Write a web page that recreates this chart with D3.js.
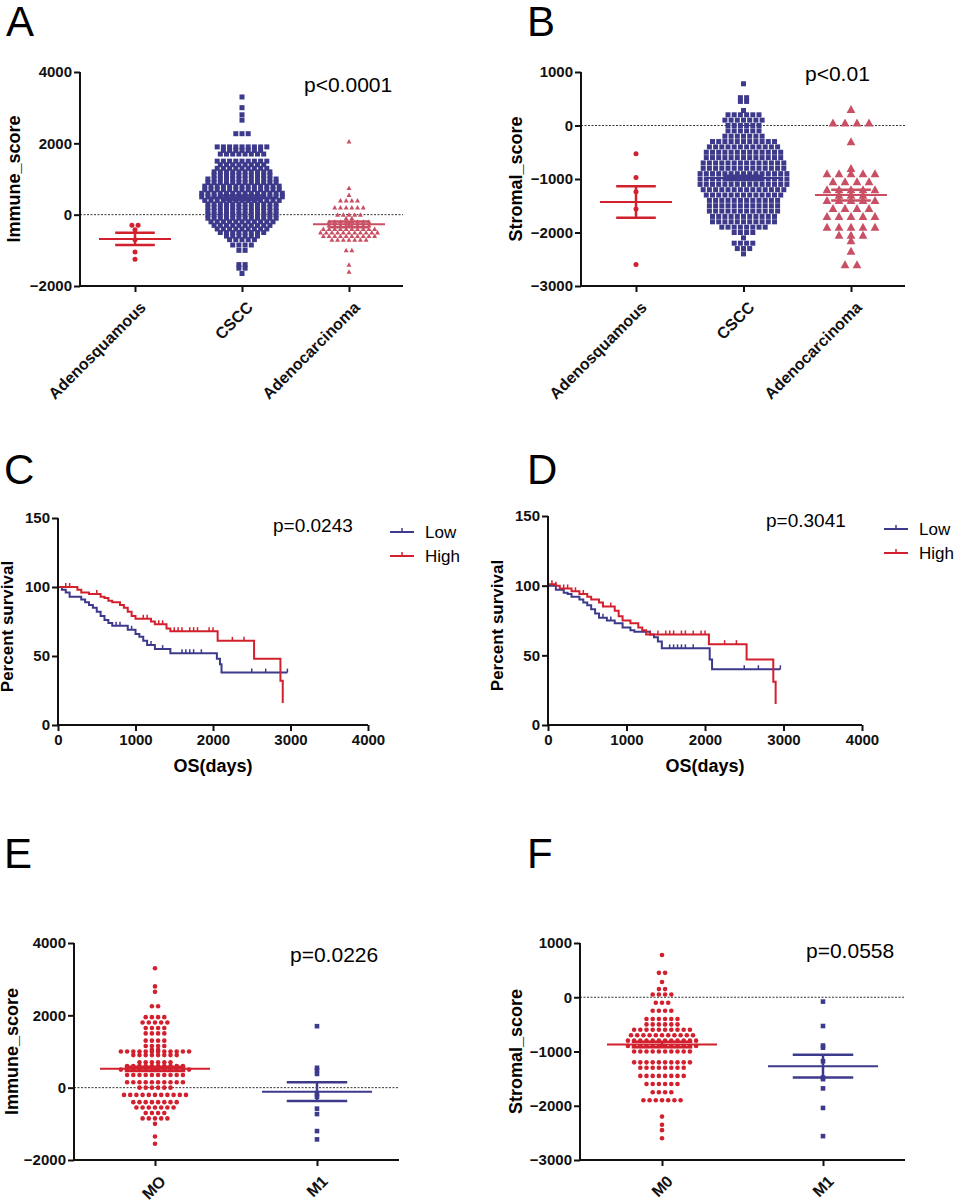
<!DOCTYPE html>
<html>
<head>
<meta charset="utf-8">
<script src="https://cdn.jsdelivr.net/npm/d3@7"></script>
<style>
  body { margin: 0; background: #fff; }
  text { font-family: "Liberation Sans", Arial, sans-serif; }
</style>
</head>
<body>
<div id="chart"></div>
<script>
// ---- data: dot rows as [value, count] ----
const typeCats = ["Adenosquamous", "CSCC", "Adenocarcinoma"];
const metCatsE = ["MO", "M1"];
const metCatsF = ["M0", "M1"];

const immAdenosq = [[-300, 2], [-420, 1], [-700, 1], [-1050, 1], [-1250, 1]];
const immCscc = [[3300, 1], [3000, 1], [2800, 1], [2650, 1], [2270, 3], [1900, 9], [1800, 7], [1700, 8], [1500, 9],
  [1400, 8], [1300, 9], [1200, 10], [1100, 10], [1000, 12], [900, 12], [800, 13], [700, 13], [600, 14], [500, 14],
  [400, 13], [300, 12], [200, 12], [100, 12], [0, 12], [-100, 12], [-200, 11], [-300, 10], [-400, 9], [-500, 8],
  [-600, 6], [-700, 5], [-850, 4], [-1000, 2], [-1400, 2], [-1500, 2], [-1650, 1]];
const immAdenoca = [[2050, 1], [750, 1], [550, 1], [400, 4], [200, 6], [0, 5], [-100, 2], [-200, 8], [-300, 8],
  [-400, 10], [-500, 11], [-600, 10], [-700, 7], [-1000, 2], [-1400, 1], [-1600, 1]];
const immMean = [-680, 480, -270];
const immSem = [170, 60, 80];

const strAdenosq = [[-530, 1], [-970, 1], [-1240, 1], [-1560, 1], [-2600, 1]];
const strCscc = [[780, 1], [520, 2], [450, 2], [280, 1], [200, 6], [100, 7], [0, 6], [-100, 6], [-200, 7],
  [-300, 11], [-400, 12], [-500, 13], [-600, 13], [-700, 14], [-800, 14], [-900, 15], [-1000, 15], [-1100, 15],
  [-1200, 14], [-1300, 13], [-1400, 12], [-1500, 12], [-1600, 12], [-1700, 11], [-1800, 11], [-1900, 8],
  [-2000, 4], [-2100, 1], [-2200, 4], [-2300, 3], [-2400, 1]];
const strAdenoca = [[300, 1], [50, 4], [-300, 1], [-800, 1], [-900, 5], [-1050, 4], [-1200, 5], [-1300, 3],
  [-1400, 5], [-1550, 4], [-1700, 5], [-1900, 5], [-2050, 3], [-2150, 1], [-2350, 1], [-2600, 2]];
const strMean = [-1430, -980, -1300];
const strSem = [295, 40, 100];

const immM0 = [[3300, 1], [2800, 1], [2650, 1], [2250, 2], [1950, 4], [1800, 5], [1650, 4], [1500, 4], [1300, 4],
  [1150, 4], [1050, 2], [1000, 12], [900, 8], [700, 6], [600, 10], [500, 12], [350, 10], [150, 10], [0, 6],
  [-200, 11], [-400, 8], [-550, 7], [-700, 4], [-850, 5], [-1000, 1], [-1350, 1], [-1550, 1]];
const immM1 = [[1700, 1], [550, 1], [480, 1], [380, 1], [-180, 1], [-250, 1], [-580, 1], [-730, 1], [-1200, 1], [-1430, 1]];
const immMetMean = [520, -110];
const immMetSem = [60, 260];

const strM0 = [[780, 1], [450, 2], [280, 1], [150, 2], [50, 4], [-100, 3], [-250, 4], [-400, 6], [-500, 6],
  [-600, 10], [-700, 11], [-800, 12], [-900, 12], [-1000, 10], [-1200, 10], [-1300, 8], [-1450, 8], [-1600, 6],
  [-1750, 4], [-1900, 7], [-2200, 1], [-2350, 1], [-2450, 1], [-2600, 1]];
const strM1 = [[-80, 1], [-530, 1], [-890, 1], [-930, 1], [-1180, 1], [-1480, 1], [-1510, 1], [-1680, 1], [-2040, 1], [-2560, 1]];
const strMetMean = [-870, -1270];
const strMetSem = [50, 210];

// survival steps [days, percent] and censor days
const cLow = [[0, 100], [50, 98], [100, 96], [150, 93], [300, 91], [350, 89], [400, 87], [450, 85], [500, 82],
  [550, 79], [600, 76], [650, 74], [700, 72], [900, 69], [1000, 66], [1050, 64], [1100, 61], [1150, 58],
  [1250, 55], [1450, 52], [2050, 48], [2090, 44], [2110, 38], [2960, 38]];
const cLowCens = [750, 800, 950, 1200, 1350, 1600, 1650, 1700, 1750, 1850, 2500, 2680, 2960];
const cHigh = [[0, 100], [250, 98], [300, 96], [400, 95], [550, 93], [600, 92], [650, 90], [700, 89], [800, 87],
  [850, 85], [900, 82], [950, 79], [1000, 77], [1200, 75], [1250, 73], [1400, 70], [1450, 68], [2060, 61],
  [2530, 48], [2870, 32], [2900, 16]];
const cHighCens = [100, 150, 500, 1100, 1150, 1300, 1350, 1500, 1550, 1600, 1700, 1750, 1800, 1950, 2000, 2250, 2400];
const dLow = [[0, 100], [100, 97], [200, 95], [250, 94], [300, 92], [400, 90], [450, 88], [500, 86], [550, 83],
  [600, 80], [650, 77], [750, 75], [850, 73], [950, 70], [1050, 68], [1100, 67], [1300, 65], [1350, 63],
  [1400, 60], [1450, 55], [2060, 47], [2090, 40], [2960, 40]];
const dLowCens = [700, 800, 1550, 1600, 1650, 1700, 1750, 1850, 2500, 2680, 2960];
const dHigh = [[0, 101], [100, 100], [150, 98], [300, 96], [400, 94], [500, 92], [550, 90], [650, 88], [700, 85],
  [850, 82], [900, 78], [950, 75], [1050, 73], [1150, 70], [1200, 68], [1250, 65], [2050, 58], [2530, 47],
  [2870, 31], [2900, 15]];
const dHighCens = [50, 100, 200, 250, 350, 450, 700, 800, 1300, 1400, 1500, 1550, 1600, 1700, 1750, 1850, 1950, 2000, 2250, 2400];

const NAVY = "#3d3a8c", RED = "#d2202e", PINK = "#c95064";

const svg = d3.select("#chart").append("svg").attr("width", 958).attr("height", 1200);

function letter(t, x, y) {
  svg.append("text").attr("x", x).attr("y", y).attr("font-size", 42).text(t);
}

function yTitle(t, x, y, size) {
  svg.append("text").attr("transform", `translate(${x},${y}) rotate(-90)`)
    .attr("text-anchor", "middle").attr("font-size", size || 18).attr("font-weight", "bold").text(t);
}

function styleAxis(g, size) {
  g.selectAll("path,line").attr("stroke", "#111").attr("stroke-width", 2);
  g.selectAll("text").attr("font-size", size || 15).attr("font-weight", "bold").attr("fill", "#111");
}

function marker(g, shape, cx, cy, s, color) {
  if (shape === "circle") g.append("circle").attr("cx", cx).attr("cy", cy).attr("r", s / 2).attr("fill", color);
  else if (shape === "square") g.append("rect").attr("x", cx - s / 2).attr("y", cy - s / 2).attr("width", s).attr("height", s).attr("fill", color);
  else g.append("path").attr("d", `M${cx},${cy - s * 0.55}L${cx + s * 0.55},${cy + s * 0.45}L${cx - s * 0.55},${cy + s * 0.45}Z`).attr("fill", color);
}

// scatter panel: groups = [{rows, shape, size, color, mean, sem, meanW}]
function dotPanel(o) {
  const y = d3.scaleLinear().domain(o.ydom).range([o.bottom, o.top]);
  const x = d3.scalePoint().domain(o.cats).range([o.catX[0], o.catX[1]]);
  svg.append("line").attr("x1", o.left).attr("x2", o.right).attr("y1", y(0)).attr("y2", y(0))
    .attr("stroke", "#333").attr("stroke-width", 1).attr("stroke-dasharray", "2,1.5");
  o.groups.forEach((gr, i) => {
    const g = svg.append("g");
    const cx = x(o.cats[i]);
    const step = gr.size + (gr.gap || 1.2);
    gr.rows.forEach(([v, n]) => {
      for (let k = 0; k < n; k++) marker(g, gr.shape, cx + (k - (n - 1) / 2) * step, y(v), gr.size, gr.color);
    });
    const sw = gr.meanW * 0.55;
    g.append("line").attr("x1", cx - gr.meanW).attr("x2", cx + gr.meanW).attr("y1", y(gr.mean)).attr("y2", y(gr.mean))
      .attr("stroke", gr.color).attr("stroke-width", 2);
    [gr.mean - gr.sem, gr.mean + gr.sem].forEach(v => g.append("line").attr("x1", cx - sw).attr("x2", cx + sw)
      .attr("y1", y(v)).attr("y2", y(v)).attr("stroke", gr.color).attr("stroke-width", 2.5));
    g.append("line").attr("x1", cx).attr("x2", cx).attr("y1", y(gr.mean - gr.sem)).attr("y2", y(gr.mean + gr.sem))
      .attr("stroke", gr.color).attr("stroke-width", 2.5);
  });
  const ya = svg.append("g").attr("transform", `translate(${o.left},0)`)
    .call(d3.axisLeft(y).tickValues(o.yticks).tickSize(6).tickSizeOuter(0).tickPadding(2).tickFormat(d3.format("d")));
  styleAxis(ya, 15);
  ya.select(".domain").attr("d", `M0,${o.top}V${o.bottom}`);
  const xa = svg.append("g").attr("transform", `translate(0,${o.bottom})`)
    .call(d3.axisBottom(x).tickSize(6).tickSizeOuter(0));
  styleAxis(xa, 16);
  xa.select(".domain").attr("d", `M${o.left},0H${o.right}`);
  xa.selectAll("text").attr("text-anchor", "end").attr("dy", 0).attr("dx", 0)
    .attr("transform", "translate(5,16) rotate(-45)");
  yTitle(o.title, o.titleX, (o.top + o.bottom) / 2, 18);
  svg.append("text").attr("x", o.pX).attr("y", o.pY).attr("font-size", 21).text(o.p);
}

function kmPanel(o) {
  const x = d3.scaleLinear().domain([0, 4000]).range([o.left, o.right]);
  const y = d3.scaleLinear().domain([0, 150]).range([o.bottom, o.top]);
  const line = d3.line().curve(d3.curveStepAfter).x(d => x(d[0])).y(d => y(d[1]));
  const survAt = (steps, t) => { let s = steps[0][1]; steps.forEach(d => { if (d[0] <= t) s = d[1]; }); return s; };
  [[o.low, o.lowC, NAVY], [o.high, o.highC, RED]].forEach(([steps, cens, col]) => {
    svg.append("path").datum(steps).attr("d", line).attr("fill", "none").attr("stroke", col).attr("stroke-width", 2);
    svg.selectAll(null).data(cens).join("line")
      .attr("x1", d => x(d)).attr("x2", d => x(d))
      .attr("y1", d => y(survAt(steps, d)) - 4).attr("y2", d => y(survAt(steps, d)))
      .attr("stroke", col).attr("stroke-width", 1.5);
  });
  const ya = svg.append("g").attr("transform", `translate(${o.left},0)`)
    .call(d3.axisLeft(y).tickValues([0, 50, 100, 150]).tickSize(6).tickSizeOuter(0).tickPadding(2));
  styleAxis(ya, 15);
  const xa = svg.append("g").attr("transform", `translate(0,${o.bottom})`)
    .call(d3.axisBottom(x).tickValues([0, 1000, 2000, 3000, 4000]).tickSize(6).tickSizeOuter(0).tickFormat(d3.format("d")));
  styleAxis(xa, 15);
  xa.select(".domain").attr("d", `M${o.left},0H${o.right}`);
  ya.select(".domain").attr("d", `M0,${o.top}V${o.bottom}`);
  svg.append("text").attr("x", (o.left + o.right) / 2).attr("y", o.bottom + 47).attr("text-anchor", "middle")
    .attr("font-size", 18).attr("font-weight", "bold").text("OS(days)");
  yTitle("Percent survival", o.left - 45, (o.top + o.bottom) / 2 + 5, 17);
  svg.append("text").attr("x", o.pX).attr("y", o.pY).attr("font-size", 19).text(o.p);
  [["Low", NAVY], ["High", RED]].forEach(([t, c], i) => {
    const ly = o.legY + i * 24;
    svg.append("line").attr("x1", o.legX).attr("x2", o.legX + 24).attr("y1", ly).attr("y2", ly).attr("stroke", c).attr("stroke-width", 2);
    svg.append("line").attr("x1", o.legX + 12).attr("x2", o.legX + 12).attr("y1", ly - 4).attr("y2", ly).attr("stroke", c).attr("stroke-width", 1.5);
    svg.append("text").attr("x", o.legX + 35).attr("y", ly + 6).attr("font-size", 17).text(t);
  });
}

letter("A", 6, 36); letter("B", 527, 36);
letter("C", 4, 484); letter("D", 527, 484);
letter("E", 4, 868); letter("F", 527, 868);

dotPanel({ cats: typeCats, catX: [135, 349], ydom: [-2000, 4000], top: 72, bottom: 286, left: 80, right: 403,
  yticks: [-2000, 0, 2000, 4000], title: "Immune_score", titleX: 20, p: "p<0.0001", pX: 304, pY: 92,
  groups: [
    { rows: immAdenosq, shape: "circle", size: 5, color: RED, mean: immMean[0], sem: immSem[0], meanW: 36 },
    { rows: immCscc, shape: "square", size: 5, color: NAVY, mean: immMean[1], sem: immSem[1], meanW: 36 },
    { rows: immAdenoca, shape: "tri", size: 4.5, color: PINK, mean: immMean[2], sem: immSem[2], meanW: 36 }] });

dotPanel({ cats: typeCats, catX: [636, 851], ydom: [-3000, 1000], top: 72, bottom: 286, left: 581, right: 905,
  yticks: [-3000, -2000, -1000, 0, 1000], title: "Stromal_score", titleX: 522, p: "p<0.01", pX: 805, pY: 81,
  groups: [
    { rows: strAdenosq, shape: "circle", size: 5, color: RED, mean: strMean[0], sem: strSem[0], meanW: 36 },
    { rows: strCscc, shape: "square", size: 5, color: NAVY, mean: strMean[1], sem: strSem[1], meanW: 36 },
    { rows: strAdenoca, shape: "tri", size: 8, color: PINK, mean: strMean[2], sem: strSem[2], meanW: 36, gap: 4 }] });

kmPanel({ left: 58, right: 368, top: 518, bottom: 725, low: cLow, lowC: cLowCens, high: cHigh, highC: cHighCens,
  p: "p=0.0243", pX: 273, pY: 532, legX: 390, legY: 532 });
kmPanel({ left: 548, right: 862, top: 516, bottom: 725, low: dLow, lowC: dLowCens, high: dHigh, highC: dHighCens,
  p: "p=0.3041", pX: 766, pY: 527, legX: 884, legY: 529 });

dotPanel({ cats: metCatsE, catX: [155, 317], ydom: [-2000, 4000], top: 943, bottom: 1160, left: 74, right: 399,
  yticks: [-2000, 0, 2000, 4000], title: "Immune_score", titleX: 18, p: "p=0.0226", pX: 290, pY: 962,
  groups: [
    { rows: immM0, shape: "circle", size: 4.6, color: RED, mean: immMetMean[0], sem: immMetSem[0], meanW: 55, gap: 1.6 },
    { rows: immM1, shape: "square", size: 4.6, color: NAVY, mean: immMetMean[1], sem: immMetSem[1], meanW: 55 }] });

dotPanel({ cats: metCatsF, catX: [662, 823], ydom: [-3000, 1000], top: 943, bottom: 1160, left: 580, right: 905,
  yticks: [-3000, -2000, -1000, 0, 1000], title: "Stromal_score", titleX: 522, p: "p=0.0558", pX: 806, pY: 958,
  groups: [
    { rows: strM0, shape: "circle", size: 4.6, color: RED, mean: strMetMean[0], sem: strMetSem[0], meanW: 55, gap: 1.6 },
    { rows: strM1, shape: "square", size: 4.6, color: NAVY, mean: strMetMean[1], sem: strMetSem[1], meanW: 55 }] });
</script>
</body>
</html>
